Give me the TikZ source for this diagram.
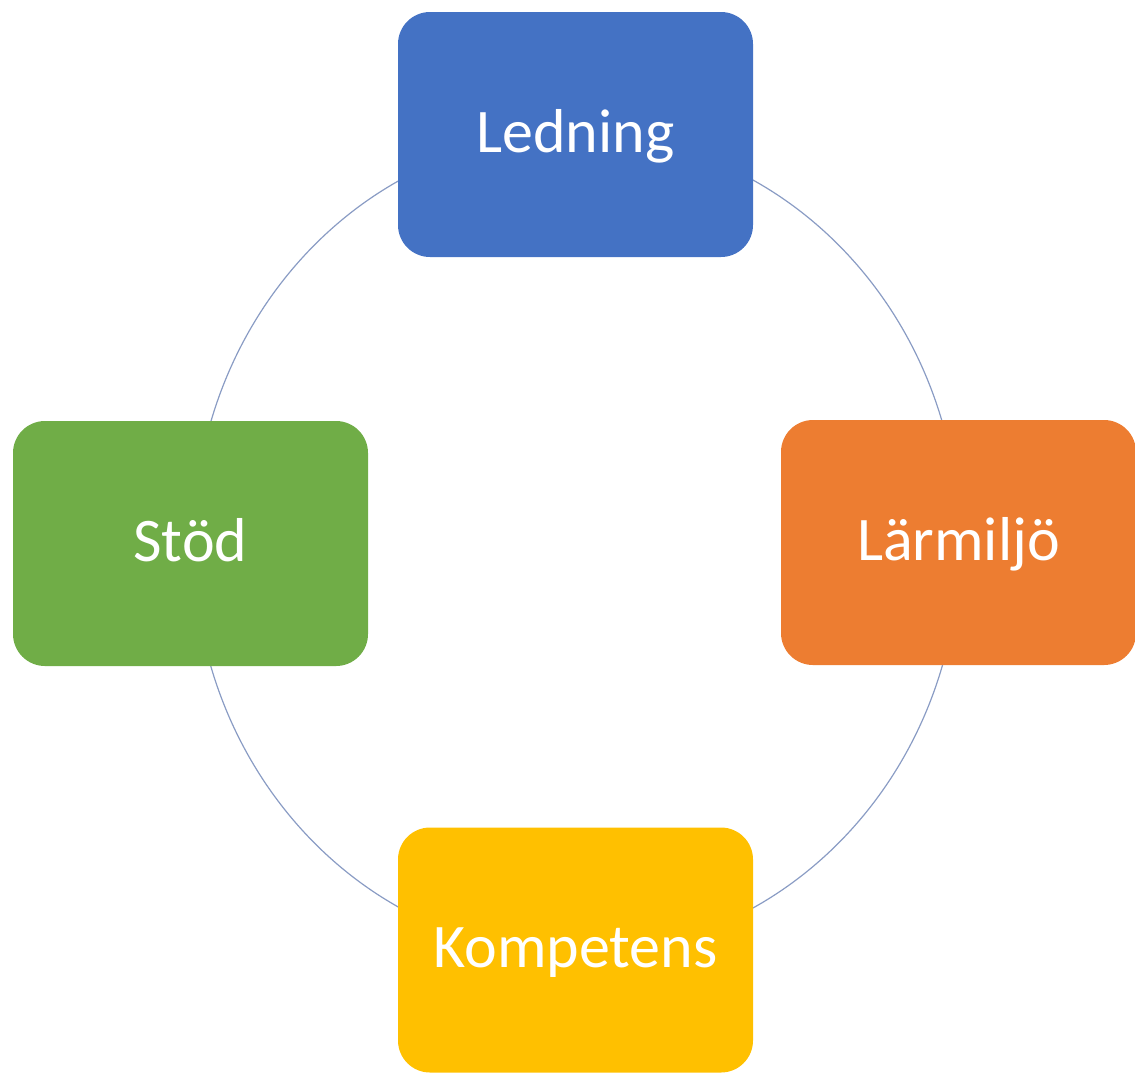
\documentclass[tikz,border=0pt]{standalone}
\usepackage{fontspec}
\setmainfont{Carlito}
\definecolor{cblue}{HTML}{4472C4}
\definecolor{cgreen}{HTML}{70AD47}
\definecolor{corange}{HTML}{ED7D31}
\definecolor{cyellow}{HTML}{FFC000}
\definecolor{ringc}{HTML}{8A9CC4}
\begin{document}
\begin{tikzpicture}[x=1pt,y=-1pt,
  cyclebox/.style={rectangle, rounded corners=32pt, minimum width=355pt, minimum height=245pt,
    inner sep=0pt, text=white, font=\fontsize{62}{62}\selectfont, text height=40pt, text depth=5pt},
  ring/.style={draw=ringc, line width=1.2pt}]
\useasboundingbox (0,0) rectangle (1135,1072);
\coordinate (ctr) at (576.5,544);
\draw[ring] (ctr) ellipse [x radius=383, y radius=410];
\node[cyclebox, fill=cblue] (led) at (575.5,134.5) {Ledning};
\node[cyclebox, fill=cgreen] (stod) at (190.5,543.5) {Stöd};
\node[cyclebox, fill=corange] (larm) at (958.5,542.5) {Lärmiljö};
\node[cyclebox, fill=cyellow] (komp) at (575.5,950) {Kompetens};
\end{tikzpicture}
\end{document}
